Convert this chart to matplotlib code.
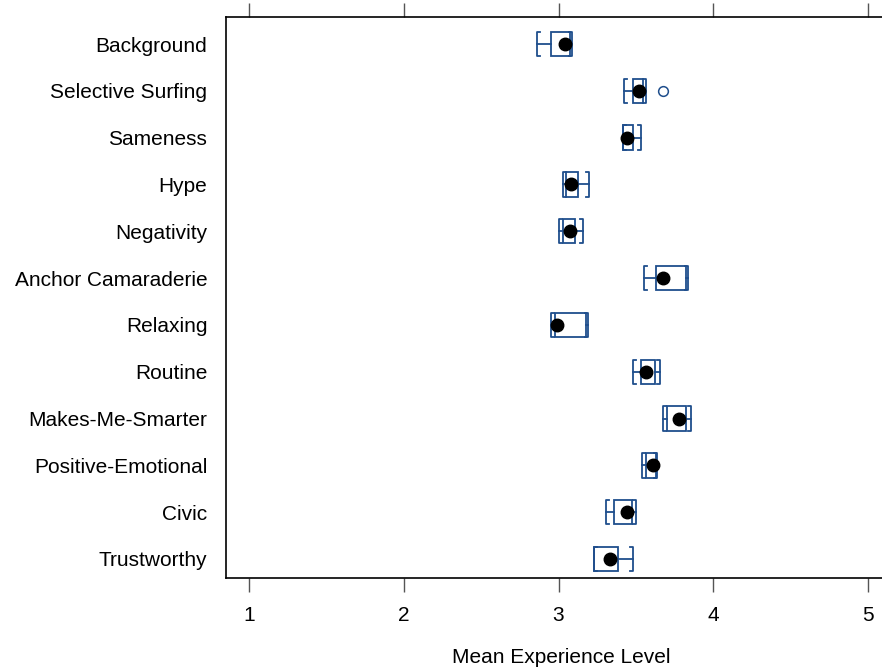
import numpy as np
import matplotlib
matplotlib.use("Agg")
import matplotlib.pyplot as plt
from matplotlib.patches import Rectangle

plt.rcParams["font.family"] = ["Liberation Sans", "DejaVu Sans"]

# data (top to bottom as shown)
labels = ["Background", "Selective Surfing", "Sameness", "Hype", "Negativity",
          "Anchor Camaraderie", "Relaxing", "Routine", "Makes-Me-Smarter",
          "Positive-Emotional", "Civic", "Trustworthy"]
whisker_lo = [2.861, 3.423, 3.417, 3.029, 3.003, 3.553, 2.952, 3.481, 3.675, 3.540, 3.307, 3.229]
box_lo = [2.952, 3.481, 3.417, 3.048, 3.029, 3.630, 2.977, 3.533, 3.701, 3.565, 3.359, 3.229]
medians = [3.042, 3.520, 3.443, 3.081, 3.074, 3.675, 2.990, 3.565, 3.779, 3.611, 3.443, 3.333]
box_hi = [3.074, 3.546, 3.481, 3.126, 3.107, 3.824, 3.178, 3.624, 3.824, 3.630, 3.475, 3.385]
whisker_hi = [3.087, 3.565, 3.533, 3.197, 3.158, 3.837, 3.191, 3.656, 3.856, 3.637, 3.501, 3.481]
outliers = {"Selective Surfing": [3.675]}

xticks = [1, 2, 3, 4, 5]

blue = "#1f4e8c"
h = 0.26      # half height of boxes
serif = 0.018  # length of the cap serifs

fig = plt.figure(figsize=(8.82, 6.69), dpi=100)
ax = fig.add_axes([226 / 882, 1 - 578 / 669, (897 - 226) / 882, (578 - 17) / 669])

n = len(labels)
ypos = np.arange(n)[::-1]

for i, lab in enumerate(labels):
    y = ypos[i]
    # box
    ax.add_patch(Rectangle((box_lo[i], y - h), box_hi[i] - box_lo[i], 2 * h,
                           fill=False, edgecolor=blue, lw=1.3, zorder=2))
    # whisker lines
    ax.plot([whisker_lo[i], box_lo[i]], [y, y], color=blue, lw=1.3, zorder=2)
    ax.plot([box_hi[i], whisker_hi[i]], [y, y], color=blue, lw=1.3, zorder=2)
    # bracket caps
    wl, wh = whisker_lo[i], whisker_hi[i]
    ax.plot([wl + serif, wl, wl, wl + serif], [y - h, y - h, y + h, y + h],
            color=blue, lw=1.3, zorder=2)
    ax.plot([wh - serif, wh, wh, wh - serif], [y - h, y - h, y + h, y + h],
            color=blue, lw=1.3, zorder=2)
    # median dot
    ax.plot(medians[i], y, "o", color="black", ms=9, zorder=3)
    # outliers
    for o in outliers.get(lab, []):
        ax.plot(o, y, "o", mfc="none", mec=blue, ms=7, mew=1.1, zorder=3)

ax.set_xlim(0.851, 5.187)
ax.set_ylim(-0.406, n - 1 + 0.577)

ax.set_yticks(ypos)
ax.set_yticklabels(labels, fontsize=15)
ax.tick_params(axis="y", length=0, pad=13.5)

ax.set_xticks(xticks)
ax.set_xticklabels([str(t) for t in xticks], fontsize=15)
ax.tick_params(axis="x", direction="out", length=10, width=1, color="#555555",
               pad=10, top=True, labeltop=False)

ax.set_xlabel("Mean Experience Level", fontsize=15, labelpad=17)

for s in ax.spines.values():
    s.set_linewidth(1.2)
    s.set_color("black")

fig.savefig("out.png", dpi=100)
